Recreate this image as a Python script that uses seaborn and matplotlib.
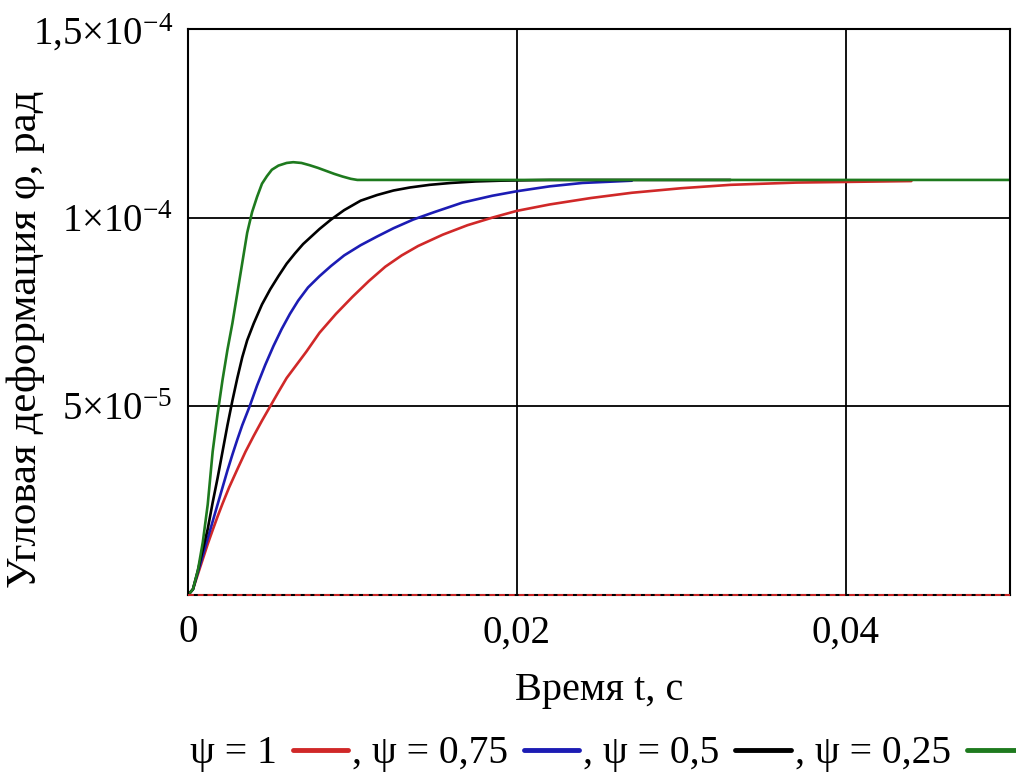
import matplotlib
matplotlib.use("Agg")
import matplotlib.pyplot as plt
import seaborn as sns

# ---- data: time in ms, deformation in units of 1e-5 rad ----
t_green = [0, 0.3, 0.6, 0.9, 1.2, 1.5, 1.8, 2.1, 2.4, 2.7, 3.0, 3.3, 3.6, 3.9, 4.2, 4.5,
           4.8, 5.1, 5.5, 6.0, 6.4, 6.9, 7.4, 7.9, 8.4, 8.9, 9.4, 9.9, 10.3, 12.0, 50.0]
y_green = [0, 0.15, 0.65, 1.4, 2.4, 3.8, 4.8, 5.7, 6.5, 7.2, 8.0, 8.8, 9.6, 10.15, 10.55, 10.9,
           11.1, 11.27, 11.38, 11.45, 11.47, 11.45, 11.39, 11.32, 11.24, 11.16, 11.09, 11.03, 11.0, 11.0, 11.0]

t_black = [0, 0.3, 0.6, 0.9, 1.2, 1.5, 1.8, 2.1, 2.4, 2.7, 3.0, 3.3, 3.6, 4.0, 4.5, 5.0,
           5.5, 6.0, 6.5, 7.0, 7.5, 8.0, 8.7, 9.5, 10.5, 11.5, 12.5, 13.5, 14.7, 16.0, 17.5,
           19.0, 22.0, 33.0]
y_black = [0, 0.15, 0.65, 1.2, 1.75, 2.45, 3.1, 3.8, 4.5, 5.15, 5.75, 6.3, 6.75, 7.2, 7.7, 8.1,
           8.45, 8.78, 9.05, 9.3, 9.5, 9.7, 9.95, 10.2, 10.45, 10.6, 10.72, 10.8, 10.87, 10.92, 10.96,
           10.98, 11.0, 11.0]

t_blue = [0, 0.3, 0.6, 0.9, 1.2, 1.5, 1.8, 2.1, 2.4, 2.7, 3.0, 3.3, 3.75, 4.2, 4.7, 5.2,
          5.7, 6.2, 6.7, 7.3, 8.0, 8.7, 9.5, 10.5, 11.5, 12.5, 13.7, 15.0, 16.7, 18.5, 20.0,
          22.0, 24.0, 27.0]
y_blue = [0, 0.15, 0.6, 1.05, 1.5, 1.95, 2.4, 2.85, 3.3, 3.72, 4.12, 4.5, 5.0, 5.55, 6.1, 6.6,
          7.05, 7.45, 7.8, 8.15, 8.45, 8.72, 9.0, 9.27, 9.5, 9.72, 9.95, 10.15, 10.4, 10.58, 10.7,
          10.83, 10.92, 10.98]

t_red = [0, 0.3, 0.6, 0.9, 1.2, 1.5, 1.8, 2.1, 2.5, 3.0, 3.5, 4.0, 4.5, 5.0, 5.5, 6.0,
         6.6, 7.2, 8.0, 9.0, 10.0, 11.0, 12.0, 13.0, 14.0, 15.5, 17.0, 18.5, 20.0, 22.0, 24.5,
         27.0, 30.0, 33.0, 37.0, 44.0]
y_red = [0, 0.15, 0.55, 0.95, 1.35, 1.72, 2.08, 2.42, 2.85, 3.33, 3.8, 4.22, 4.62, 5.0, 5.38, 5.75,
         6.1, 6.45, 6.95, 7.45, 7.9, 8.32, 8.7, 9.0, 9.25, 9.55, 9.8, 10.0, 10.18, 10.35, 10.52,
         10.66, 10.78, 10.87, 10.93, 10.97]

t_zero = [0, 50.0]
y_zero = [0, 0]

MS = 1e-3      # ms -> s
UNIT = 1e-5    # y unit

legend_labels = ["ψ = 1", ", ψ = 0,75", ", ψ = 0,5", ", ψ = 0,25"]
x_ticks = [0, 0.02, 0.04]
x_ticklabels = ["0", "0,02", "0,04"]
y_ticks = [5e-5, 1e-4, 1.5e-4]
y_ticklabels = ["5×10$^{-5}$", "1×10$^{-4}$", "1,5×10$^{-4}$"]

# ---- style ----
sns.set_style("white")
plt.rcParams['font.family'] = ['Liberation Serif', 'DejaVu Serif']
plt.rcParams['mathtext.fontset'] = 'custom'
plt.rcParams['mathtext.rm'] = 'Liberation Serif'
plt.rcParams['mathtext.it'] = 'Liberation Serif:italic'
plt.rcParams['mathtext.bf'] = 'Liberation Serif:bold'
for key in ['text.color', 'axes.labelcolor', 'xtick.color', 'ytick.color']:
    plt.rcParams[key] = 'black'

fig = plt.figure(figsize=(10.16, 7.73), dpi=100)
ax = fig.add_axes([188/1016, 1 - 595/773, (1010 - 188)/1016, (595 - 29)/773])

c_red, c_blue, c_black, c_green = "#d02828", "#1c1cb4", "#000000", "#1e7a1e"
lw = 1.9

def s(ts):
    return [q * MS for q in ts]

def v(ys):
    return [q * UNIT for q in ys]

sns.lineplot(x=s(t_zero), y=v(y_zero), ax=ax, color=c_red, lw=1.4,
             linestyle=(0, (3, 2)), zorder=3, clip_on=False)
sns.lineplot(x=s(t_red), y=v(y_red), ax=ax, color=c_red, lw=lw, label=legend_labels[0], sort=False)
sns.lineplot(x=s(t_blue), y=v(y_blue), ax=ax, color=c_blue, lw=lw, label=legend_labels[1], sort=False)
sns.lineplot(x=s(t_black), y=v(y_black), ax=ax, color=c_black, lw=lw, label=legend_labels[2], sort=False)
sns.lineplot(x=s(t_green), y=v(y_green), ax=ax, color=c_green, lw=lw, label=legend_labels[3], sort=False)

ax.set_xlim(0, 0.05)
ax.set_ylim(0, 1.5e-4)
ax.set_xticks(x_ticks)
ax.set_xticklabels(x_ticklabels)
ax.set_yticks(y_ticks)
ax.set_yticklabels(y_ticklabels)
ax.tick_params(length=0, labelsize=28)
ax.tick_params(axis='x', pad=14)
ax.tick_params(axis='y', pad=11)
ax.grid(True, color='black', lw=1.3)
for sp in ax.spines.values():
    sp.set_color('black')
    sp.set_linewidth(1.5)

ax.set_xlabel("Время t, с", fontsize=29)
ax.set_ylabel("Угловая деформация φ, рад", fontsize=31)
ax.xaxis.set_label_coords(0.5, (595 - 672) / 566)
ax.yaxis.set_label_coords((45 - 188) / 822, (595 - 339) / 566)

leg = ax.legend(loc='center left', bbox_to_anchor=(0.187, 1 - 754/773),
                bbox_transform=fig.transFigure, ncol=4, markerfirst=False,
                frameon=False, fontsize=28.5, handlelength=1.4, handletextpad=0.4,
                columnspacing=0.1, borderaxespad=0, borderpad=0)
for line in leg.get_lines():
    line.set_linewidth(3.5)

fig.savefig("out.png", dpi=100, facecolor='white')
